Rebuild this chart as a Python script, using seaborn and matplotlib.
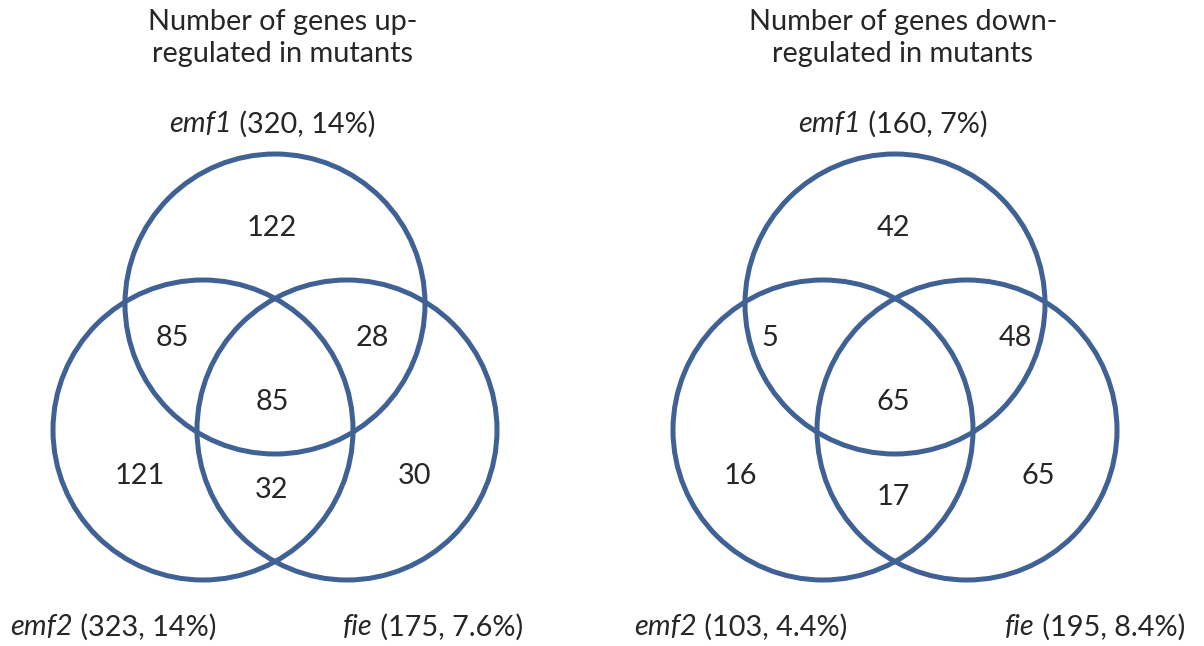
import matplotlib
matplotlib.use("Agg")
import matplotlib.pyplot as plt
import seaborn as sns
from matplotlib.patches import Circle

# three gene sets and the seven Venn regions
sets = ["emf1", "emf2", "fie"]
# region order: emf1 only, emf1&emf2, emf1&fie, all three, emf2 only, emf2&fie, fie only
up_counts = [122, 85, 28, 85, 121, 32, 30]
down_counts = [42, 5, 48, 65, 16, 17, 65]
up_totals = [320, 323, 175]
up_pct = ["14%", "14%", "7.6%"]
down_totals = [160, 103, 195]
down_pct = ["7%", "4.4%", "8.4%"]
titles = ["Number of genes up-\nregulated in mutants",
          "Number of genes down-\nregulated in mutants"]

sns.set_style("white")
plt.rcParams["font.family"] = ["Lato", "DejaVu Sans"]

LINE = "#3F6193"
FS = 20.8

fig = plt.figure(figsize=(12.04, 6.46), dpi=100)
ax = fig.add_axes([0, 0, 1, 1])
ax.set_xlim(0, 1204)
ax.set_ylim(646, 0)
ax.axis("off")
renderer = fig.canvas.get_renderer()


def set_label(x, y, name, rest, ha):
    # italic gene name followed by upright counts
    t1 = ax.text(0, y, name, style="italic", fontsize=FS, va="center")
    t2 = ax.text(0, y, rest, fontsize=FS, va="center")
    w1 = t1.get_window_extent(renderer).width
    w2 = t2.get_window_extent(renderer).width
    if ha == "center":
        x0 = x - (w1 + w2) / 2
    elif ha == "right":
        x0 = x - (w1 + w2)
    else:
        x0 = x
    t1.set_x(x0)
    t2.set_x(x0 + w1)


panels = [
    dict(cx=275, counts=up_counts, totals=up_totals, pct=up_pct, title=titles[0],
         pos=[(-3, 228), (-103, 338), (97, 338), (-3, 402), (-135, 476), (-3, 490), (140, 476)],
         lab=[(-3, 124, "center"), (-265, 627, "left"), (248, 627, "right")]),
    dict(cx=895, counts=down_counts, totals=down_totals, pct=down_pct, title=titles[1],
         pos=[(-2, 228), (-125, 338), (120, 338), (-2, 402), (-155, 476), (-2, 497), (143, 476)],
         lab=[(-2, 124, "center"), (-261, 627, "left"), (290, 627, "right")]),
]

R = 150
circ = [(0, 304), (-72, 430), (72, 430)]

for p in panels:
    cx = p["cx"]
    for dx, cy in circ:
        ax.add_patch(Circle((cx + dx, cy), R, fill=False, ec=LINE, lw=3.6))
    for (dx, y), n in zip(p["pos"], p["counts"]):
        ax.text(cx + dx, y, str(n), fontsize=FS, ha="center", va="center")
    ax.text(cx + 8, 38, p["title"], fontsize=FS, ha="center", va="center",
            linespacing=1.25)
    for (dx, y, ha), s, tot, pc in zip(p["lab"], sets, p["totals"], p["pct"]):
        set_label(cx + dx, y, s, f" ({tot}, {pc})", ha)

fig.savefig("out.png", dpi=100)
